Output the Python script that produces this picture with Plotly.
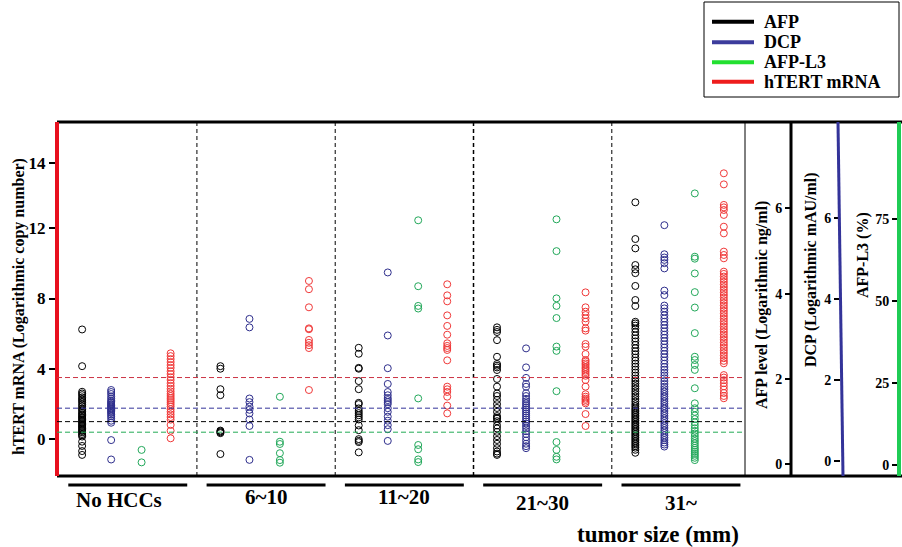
import plotly.graph_objects as go

# ---------------- data ----------------
GROUPS = ["No HCCs", "6~10", "11~20", "21~30", "31~"]
X_TITLE = "tumor size (mm)"

# AFP, log ng/ml (right axis "AFP level")
AFP = [
    [3.16, 2.30, 1.70, 1.66, 1.62, 1.57, 1.53, 1.49, 1.45, 1.40, 1.36, 1.31, 1.28, 1.24,
     1.20, 1.17, 1.14, 1.11, 1.08, 1.05, 1.02, 0.99, 0.96, 0.93, 0.90, 0.87, 0.84, 0.81,
     0.78, 0.75, 0.71, 0.68, 0.65, 0.53, 0.43, 0.31, 0.22],
    [2.30, 2.24, 1.76, 1.62, 0.79, 0.77, 0.75, 0.73, 0.24],
    [2.73, 2.59, 2.26, 2.24, 1.95, 1.76, 1.44, 1.41, 1.31, 1.25, 1.20, 1.15, 1.10, 1.05,
     0.91, 0.80, 0.59, 0.55, 0.52, 0.28],
    [3.21, 3.15, 3.10, 2.91, 2.52, 2.35, 2.31, 2.27, 2.21, 2.00, 1.82, 1.66, 1.60, 1.51,
     1.41, 1.32, 1.23, 1.13, 1.09, 1.07, 1.01, 0.91, 0.84, 0.76, 0.66, 0.57, 0.48, 0.38,
     0.30, 0.25, 0.22],
    [6.14, 5.28, 5.06, 4.67, 4.57, 4.48, 4.18, 3.85, 3.71, 3.34, 3.30, 3.25, 3.18, 3.10,
     3.02, 2.95, 2.88, 2.80, 2.72, 2.65, 2.58, 2.50, 2.43, 2.36, 2.29, 2.22, 2.15, 2.08,
     2.01, 1.95, 1.89, 1.83, 1.77, 1.71, 1.65, 1.59, 1.53, 1.47, 1.41, 1.36, 1.31, 1.27,
     1.23, 1.19, 1.15, 1.11, 1.07, 1.03, 0.99, 0.95, 0.91, 0.87, 0.83, 0.79, 0.75, 0.71,
     0.67, 0.63, 0.59, 0.55, 0.51, 0.47, 0.43, 0.39, 0.34, 0.27],
]

# DCP, log mAU/ml
DCP = [
    [1.75, 1.70, 1.65, 1.59, 1.54, 1.49, 1.46, 1.43, 1.40, 1.37, 1.35, 1.32, 1.29, 1.27,
     1.24, 1.21, 1.18, 1.14, 1.10, 1.05, 0.99, 0.94, 0.51, 0.03],
    [3.51, 3.30, 1.54, 1.45, 1.34, 1.26, 1.17, 1.02, 0.86, 0.02],
    [4.66, 3.10, 2.29, 1.90, 1.70, 1.62, 1.55, 1.50, 1.45, 1.40, 1.30, 1.21, 1.09, 0.99,
     0.88, 0.78, 0.49],
    [2.78, 2.31, 2.05, 1.90, 1.83, 1.67, 1.60, 1.53, 1.47, 1.42, 1.37, 1.32, 1.27, 1.22,
     1.17, 1.12, 1.07, 1.02, 0.97, 0.92, 0.86, 0.80, 0.73, 0.66, 0.58, 0.50, 0.42, 0.36, 0.31],
    [5.83, 5.11, 5.03, 4.97, 4.89, 4.76, 4.21, 4.10, 3.84, 3.77, 3.69, 3.60, 3.52, 3.44,
     3.36, 3.28, 3.20, 3.12, 3.04, 2.96, 2.88, 2.80, 2.72, 2.64, 2.56, 2.48, 2.40, 2.32,
     2.25, 2.18, 2.11, 2.04, 1.97, 1.90, 1.83, 1.77, 1.71, 1.65, 1.59, 1.53, 1.47, 1.41,
     1.35, 1.29, 1.23, 1.17, 1.11, 1.05, 0.99, 0.93, 0.87, 0.81, 0.75, 0.69, 0.63, 0.57,
     0.51, 0.45, 0.40, 0.35],
]

# AFP-L3, %
AFP_L3 = [
    [4.6, 0.8],
    [20.8, 7.1, 6.4, 3.6, 1.5, 0.7],
    [74.6, 54.5, 48.5, 47.7, 20.3, 6.1, 4.8, 1.7, 0.9],
    [74.9, 65.2, 50.8, 48.5, 44.8, 36.1, 34.8, 22.5, 7.0, 4.6, 2.5, 1.7],
    [82.8, 63.5, 62.9, 58.4, 52.7, 48.0, 40.2, 33.0, 32.0, 30.5, 29.0, 23.4, 18.8, 17.3,
     16.2, 15.1, 14.0, 13.0, 12.1, 11.2, 10.4, 9.6, 8.8, 8.0, 7.3, 6.6, 5.9, 5.2, 4.6,
     4.0, 3.4, 2.8, 2.2, 1.5],
]

# hTERT mRNA, log copy number (left axis)
HTERT = [
    [4.88, 4.72, 4.55, 4.38, 4.21, 4.05, 3.86, 3.70, 3.52, 3.36, 3.18, 3.02, 2.86, 2.71,
     2.57, 2.45, 2.33, 2.22, 2.10, 1.98, 1.85, 1.70, 1.55, 1.40, 1.25, 1.10, 0.80, 0.47, 0.04],
    [9.00, 8.53, 7.50, 6.30, 6.25, 5.64, 5.48, 5.34, 5.18, 2.79],
    [8.81, 8.18, 7.84, 7.04, 6.44, 5.94, 5.45, 5.30, 5.18, 5.07, 4.48, 2.98, 2.83, 2.68,
     2.41, 1.90, 1.46],
    [8.35, 7.50, 7.25, 7.06, 6.87, 6.68, 6.30, 6.17, 5.41, 5.26, 4.84, 4.50, 4.41, 4.30,
     4.21, 4.10, 4.01, 3.90, 3.81, 3.70, 3.60, 3.36, 2.98, 2.55, 2.41, 2.30, 2.22, 2.12,
     2.03, 1.42, 0.74],
    [15.13, 14.50, 13.33, 13.19, 13.04, 12.76, 12.09, 11.71, 10.67, 10.48, 10.29, 9.53,
     9.40, 9.25, 9.10, 8.95, 8.80, 8.65, 8.50, 8.35, 8.20, 8.05, 7.90, 7.75, 7.60, 7.45,
     7.30, 7.15, 7.00, 6.85, 6.70, 6.55, 6.40, 6.25, 6.10, 5.95, 5.80, 5.65, 5.50, 5.35,
     5.20, 5.05, 4.90, 4.75, 4.60, 4.45, 4.31, 3.64, 3.50, 3.35, 3.18, 3.00, 2.82, 2.62,
     2.45, 2.32],
]

# cut-off lines
HTERT_CUTOFF = 3.5
DCP_CUTOFF = 1.3
AFP_CUTOFF = 1.0
L3_CUTOFF = 10

# tick labels
HTERT_TICKVALS = [0, 4, 8, 12, 15.7]
HTERT_TICKTEXT = ["0", "4", "8", "12", "14"]
AFP_TICKS = [0, 2, 4, 6]
DCP_TICKS = [0, 2, 4, 6]
L3_TICKS = [0, 25, 50, 75]

LEGEND_NAMES = ["AFP", "DCP", "AFP-L3", "hTERT mRNA"]

# ---------------- styling ----------------
FONT = "Liberation Serif"
BLACK = "#000000"
BLUE_PT = "#2e2e8c"
GREEN_PT = "#22a85a"
RED_PT = "#f03838"
LEG_COLORS = ["#000000", "#3c3c9c", "#22e030", "#ee1c1c"]

series = [
    (AFP, "y2", BLACK, -0.33),
    (DCP, "y3", BLUE_PT, -0.12),
    (AFP_L3, "y4", GREEN_PT, 0.10),
    (HTERT, "y", RED_PT, 0.31),
]

fig = go.Figure()
for name, (vals, yax, color, off) in zip(LEGEND_NAMES, series):
    xs, ys = [], []
    for gi, gv in enumerate(vals):
        xs += [gi + off] * len(gv)
        ys += gv
    fig.add_trace(go.Scatter(
        x=xs, y=ys, mode="markers", name=name, yaxis=yax, showlegend=False,
        cliponaxis=False,
        marker=dict(symbol="circle-open", size=7, color=color, line=dict(width=1, color=color)),
    ))

W, H = 902, 547
L, R, T, B = 57, 0, 122, 71
PW = W - L - R
PH = H - T - B


def px(xp):
    return (xp - L) / PW


def py(yp):
    return (H - B - yp) / PH


def bold(labels):
    return [f"<b>{t}</b>" for t in labels]


common_y = dict(showgrid=False, zeroline=False, showline=False, ticks="outside",
                tickwidth=2, tickcolor="black",
                automargin=False, fixedrange=True)

fig.update_layout(
    width=W, height=H,
    margin=dict(l=L, r=R, t=T, b=B),
    paper_bgcolor="white", plot_bgcolor="white",
    showlegend=False,
    font=dict(family=FONT, color="black"),
    xaxis=dict(domain=[0, px(745)], range=[-0.5116, 4.463], showgrid=False, zeroline=False,
               showticklabels=False, ticks="", showline=False, fixedrange=True),
    yaxis=dict(range=[-2.107, 18.052], tickvals=HTERT_TICKVALS, ticktext=bold(HTERT_TICKTEXT),
               ticklen=7, tickfont=dict(family=FONT, size=17, color="black"), **common_y),
    yaxis2=dict(overlaying="y", anchor="free", position=px(791), side="left",
                range=[-0.2742, 8.022], tickvals=AFP_TICKS,
                ticktext=bold([str(v) for v in AFP_TICKS]), ticklen=6,
                tickfont=dict(family=FONT, size=14, color="black"), **common_y),
    yaxis3=dict(overlaying="y", anchor="free", position=px(840), side="left",
                range=[-0.3787, 8.384], tickvals=DCP_TICKS,
                ticktext=bold([str(v) for v in DCP_TICKS]), ticklen=6,
                tickfont=dict(family=FONT, size=14, color="black"), **common_y),
    yaxis4=dict(overlaying="y", anchor="free", position=px(898), side="left",
                range=[-3.354, 104.57], tickvals=L3_TICKS,
                ticktext=bold([str(v) for v in L3_TICKS]), ticklen=6,
                tickfont=dict(family=FONT, size=14, color="black"), **common_y),
)

shapes = []
# frame lines
shapes.append(dict(type="line", xref="paper", yref="paper", x0=0, x1=1, y0=1, y1=1,
                   line=dict(color="black", width=3)))
shapes.append(dict(type="line", xref="paper", yref="paper", x0=0, x1=1, y0=0, y1=0,
                   line=dict(color="black", width=3)))
shapes.append(dict(type="line", xref="paper", yref="paper", x0=px(745), x1=px(745), y0=0, y1=1,
                   line=dict(color="black", width=1)))
shapes.append(dict(type="line", xref="paper", yref="paper", x0=px(791), x1=px(791), y0=0, y1=1,
                   line=dict(color="black", width=3)))
shapes.append(dict(type="line", xref="paper", yref="paper", x0=px(838), x1=px(843), y0=1, y1=0,
                   line=dict(color="#333399", width=3)))
shapes.append(dict(type="line", xref="paper", yref="paper", x0=px(899), x1=px(899), y0=0, y1=1,
                   line=dict(color="#1fcc55", width=4)))
shapes.append(dict(type="line", xref="paper", yref="paper", x0=0, x1=0, y0=0, y1=1,
                   line=dict(color="#e8101e", width=4)))
# group separators
for i in range(len(GROUPS) - 1):
    shapes.append(dict(type="line", xref="x", yref="paper", x0=i + 0.5, x1=i + 0.5, y0=0, y1=1,
                       line=dict(color="black", width=1.5 if i == 2 else 1, dash="4px,3px")))
# cut-off lines
for val, yr, col in [(HTERT_CUTOFF, "y", "#cc3344"), (DCP_CUTOFF, "y3", "#333399"),
                     (AFP_CUTOFF, "y2", "#000000"), (L3_CUTOFF, "y4", "#22aa55")]:
    shapes.append(dict(type="line", xref="paper", yref=yr, x0=0, x1=px(745), y0=val, y1=val,
                       line=dict(color=col, width=1, dash="5px,3px")))
# group underlines
for i in range(len(GROUPS)):
    shapes.append(dict(type="line", xref="x", yref="paper", x0=i - 0.43, x1=i + 0.43,
                       y0=py(485), y1=py(485), line=dict(color="black", width=3)))
# legend box
shapes.append(dict(type="rect", xref="paper", yref="paper", x0=px(704), x1=px(899),
                   y0=py(97), y1=py(2), line=dict(color="black", width=1), fillcolor="white"))
LEG_Y = [21.7, 42.3, 62.3, 81.7]
for ly, col in zip(LEG_Y, LEG_COLORS):
    shapes.append(dict(type="line", xref="paper", yref="paper", x0=px(712), x1=px(754),
                       y0=py(ly), y1=py(ly), line=dict(color=col, width=4)))

annotations = []
for ly, name in zip(LEG_Y, LEGEND_NAMES):
    annotations.append(dict(xref="paper", yref="paper", x=px(762), y=py(ly), text=f"<b>{name}</b>",
                            showarrow=False, xanchor="left", yanchor="middle",
                            font=dict(family=FONT, size=18, color="black")))
# group labels
LABEL_Y = [500, 497, 497, 503, 503]
for i, (g, ly) in enumerate(zip(GROUPS, LABEL_Y)):
    annotations.append(dict(xref="x", yref="paper", x=i - (0.06 if i == 0 else 0), y=py(ly),
                            text=f"<b>{g}</b>", showarrow=False, xanchor="center", yanchor="middle",
                            font=dict(family=FONT, size=21, color="black")))
annotations.append(dict(xref="paper", yref="paper", x=px(658), y=py(534), text=f"<b>{X_TITLE}</b>",
                        showarrow=False, xanchor="center", yanchor="middle",
                        font=dict(family=FONT, size=23, color="black")))
# axis titles
for text, xp, yp in [("hTERT mRNA (Logarithmic copy number)", 19, 307),
                     ("AFP level (Logarithmic ng/ml)", 762, 305),
                     ("DCP (Logarithmic mAU/ml)", 811, 270),
                     ("AFP-L3 (%)", 863, 255)]:
    annotations.append(dict(xref="paper", yref="paper", x=px(xp), y=py(yp), text=f"<b>{text}</b>",
                            showarrow=False, textangle=-90, xanchor="center", yanchor="middle",
                            font=dict(family=FONT, size=16, color="black")))

fig.update_layout(shapes=shapes, annotations=annotations)
fig.write_html("out.html", config={"displayModeBar": False},
               post_script="document.body.style.margin='0';document.body.style.overflow='hidden';")
